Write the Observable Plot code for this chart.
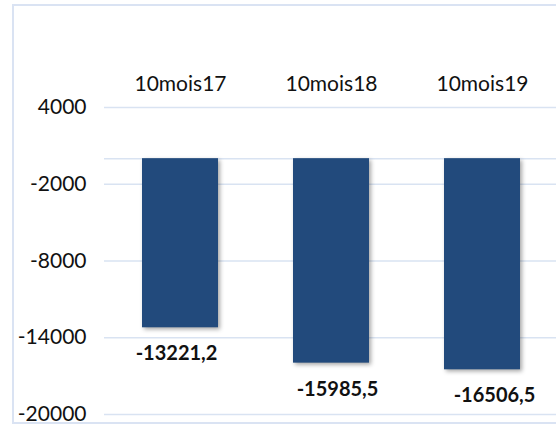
<!DOCTYPE html>
<html>
<head>
<meta charset="utf-8">
<script src="https://cdn.jsdelivr.net/npm/d3@7"></script>
<script src="https://cdn.jsdelivr.net/npm/@observablehq/plot@0.6"></script>
<style>
  html, body { margin: 0; padding: 0; background: #fff; }
  #wrap { position: relative; width: 556px; height: 428px; overflow: hidden; }
  #border { position: absolute; left: 12px; top: 4px; width: 600px; height: 420px; border: 2px solid #dae3f3; box-sizing: border-box; pointer-events: none; }
  #chart svg { display: block; }
  #chart g[aria-label="bar"] rect { filter: drop-shadow(2px 2px 2px rgba(0,0,0,0.35)); }
</style>
</head>
<body>
<div id="wrap">
  <div id="chart"></div>
  <div id="border"></div>
</div>
<script>
const categories = ["10mois17", "10mois18", "10mois19"];
const values = [-13221.2, -15985.5, -16506.5];
const yTicks = [4000, -2000, -8000, -14000, -20000];

const data = categories.map((c, i) => ({ cat: c, value: values[i] }));
const fmt = v => String(v).replace(".", ",");
const font = "Lato, 'Open Sans', sans-serif";
const labelNudge = [-4, 6, 12];

const plot = Plot.plot({
  width: 556,
  height: 428,
  marginLeft: 104,
  marginRight: 0,
  marginTop: 107,
  marginBottom: 14,
  style: { fontFamily: font, fontSize: "21px", color: "#111", background: "transparent" },
  x: { domain: categories, range: [104, 557.5], paddingInner: 0.5, paddingOuter: 0.25, label: null },
  y: { domain: [-20000, 4000], label: null },
  marks: [
    Plot.ruleY(yTicks, { stroke: "#d9e3f2", strokeWidth: 1.5 }),
    Plot.ruleY([0], { stroke: "#d9e3f2", strokeWidth: 1.5 }),
    Plot.barY(data, { x: "cat", y: "value", fill: "#224a7c" }),
    ...data.map((d, i) => Plot.text([d], { x: "cat", y: "value", text: e => fmt(e.value), dy: 26, dx: labelNudge[i], fontWeight: "bold", fontSize: 20, fill: "#111" })),
    Plot.axisX({ anchor: "top", tickSize: 0, tickPadding: 17, label: null, fontSize: 21 }),
    Plot.axisY({ ticks: yTicks, tickFormat: d => String(d), tickSize: 0, tickPadding: 18, label: null, fontSize: 21 })
  ]
});
document.getElementById("chart").appendChild(plot);
</script>
</body>
</html>
